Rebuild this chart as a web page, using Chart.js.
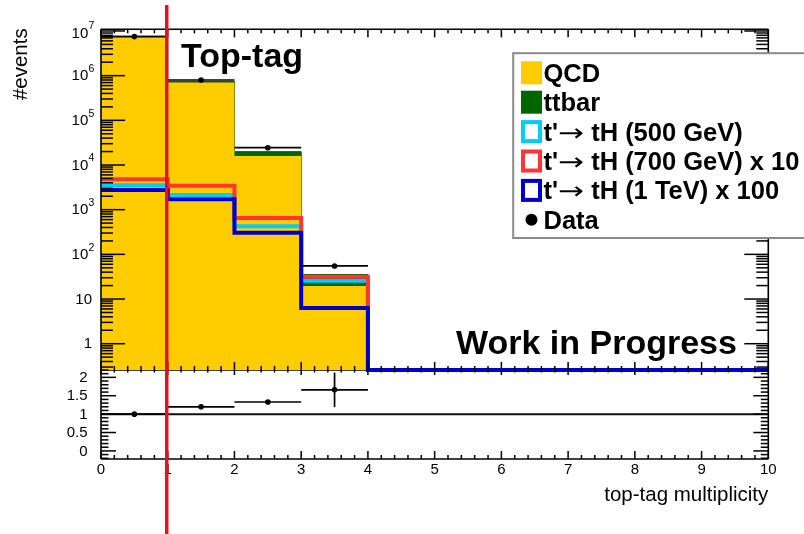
<!DOCTYPE html>
<html>
<head>
<meta charset="utf-8">
<script src="https://cdn.jsdelivr.net/npm/chart.js@4.4.1/dist/chart.umd.min.js"></script>
<style>
  html, body { margin: 0; padding: 0; background: #fff; }
  #wrap { position: relative; width: 804px; height: 534px; }
</style>
</head>
<body>
<div id="wrap"><canvas id="c" width="804" height="534"></canvas></div>
<script>
// Bin edges of the top-tag multiplicity histogram
const binEdges = [0, 1, 2, 3, 4, 5, 6, 7, 8, 9, 10];

// Event counts per bin (stacked backgrounds, scaled signals, data)
const qcd        = [7.6e6, 7.0e5, 1.59e4, 19.6, 0, 0, 0, 0, 0, 0];
const ttbar      = [3.0e4, 4.0e4, 4.0e3, 15.8, 0, 0, 0, 0, 0, 0];
const tH500      = [3500, 2130, 425, 25.7, 0, 0, 0, 0, 0, 0];
const tH700x10   = [4820, 3430, 650, 31.6, 0, 0, 0, 0, 0, 0];
const tH1000x100 = [2760, 1710, 305, 6.3, 0, 0, 0, 0, 0, 0];
const dataCounts = [7.5e6, 8.0e5, 2.44e4, 55, 0, 0, 0, 0, 0, 0];

// Data / MC ratio per bin with its uncertainty
const ratioVals = [1.0, 1.2, 1.33, 1.66];
const ratioErr  = [0.0004, 0.0013, 0.009, 0.47];

// Axis labels
const xTickLabels = ['0', '1', '2', '3', '4', '5', '6', '7', '8', '9', '10'];
const yDecades = [0, 1, 2, 3, 4, 5, 6, 7];
const ratioTicks = [0, 0.5, 1, 1.5, 2];
const ratioTickLabels = ['0', '0.5', '1', '1.5', '2'];

const seriesNames = ['QCD', 'ttbar', "t'\u2192 tH (500 GeV)", "t'\u2192 tH (700 GeV) x 10", "t'\u2192 tH (1 TeV) x 100", 'Data'];
const cutValue = 0.985; // selection line on the multiplicity axis

// ---- styling ----
const FONT = '"Liberation Sans", Arial, Helvetica, sans-serif';
const COL = {
  qcd: '#ffcc00', ttbar: '#006600', s500: '#00ccff', s700: '#ff3535', s1000: '#0000cc',
  cut: '#e6101e', legendBorder: '#8a8a8a'
};
const Y_MIN = 0.258, Y_MAX = 1.09e7;
const R_MIN = -0.22, R_MAX = 2.2;

// Histogram outline: one point per bin low edge plus the closing edge
function stepPoints(vals) {
  const pts = vals.map((v, i) => ({ x: binEdges[i], y: v > 0 ? v : Y_MIN }));
  pts.push({ x: binEdges[vals.length], y: pts[pts.length - 1].y });
  return pts;
}
const stackTop = qcd.map((v, i) => v + ttbar[i]);

function seg(ctx, x1, y1, x2, y2) {
  ctx.beginPath(); ctx.moveTo(x1, y1); ctx.lineTo(x2, y2); ctx.stroke();
}

// Legend label: bold text with a thin, wide arrow in between
function drawLabel(ctx, text, x, y) {
  const parts = text.split('\u2192');
  const bold = 'bold 25.5px ' + FONT;
  ctx.font = bold;
  ctx.fillText(parts[0], x, y);
  x += ctx.measureText(parts[0]).width;
  if (parts.length > 1) {
    ctx.font = '24px "DejaVu Sans"';
    const w = ctx.measureText('\u2192').width;
    const sx = 26 / w;
    ctx.save();
    ctx.translate(x, y);
    ctx.scale(sx, 1);
    ctx.fillText('\u2192', 0, 0);
    ctx.restore();
    x += 26;
    ctx.font = bold;
    ctx.fillText(parts[1], x, y);
  }
}

const rootFrame = {
  id: 'rootFrame',
  beforeDatasetsDraw(chart) {
    const { ctx } = chart;
    const xs = chart.scales.x, ys = chart.scales.y;
    ctx.save();
    ctx.strokeStyle = '#000'; ctx.lineWidth = 1.6;
    seg(ctx, xs.left, ys.bottom, xs.right, ys.bottom);
    ctx.restore();
  },
  afterDatasetsDraw(chart) {
    const { ctx } = chart;
    const xs = chart.scales.x, ys = chart.scales.y, yr = chart.scales.yR;
    const L = xs.left, R = xs.right, T = ys.top, M = ys.bottom, B = yr.bottom;
    const px = v => xs.getPixelForValue(v);
    ctx.save();
    ctx.strokeStyle = '#000';
    ctx.lineCap = 'butt';

    // data error bars (bin width) in the upper pad
    ctx.lineWidth = 1.7;
    dataCounts.forEach((v, i) => {
      if (v <= 0) return;
      const y = ys.getPixelForValue(v);
      seg(ctx, px(binEdges[i]), y, px(binEdges[i + 1]), y);
    });
    // ratio error bars
    ratioVals.forEach((v, i) => {
      const y = yr.getPixelForValue(v);
      const xc = px(binEdges[i] + 0.5);
      seg(ctx, px(binEdges[i]), y, px(binEdges[i + 1]), y);
      seg(ctx, xc, yr.getPixelForValue(v + ratioErr[i]), xc, yr.getPixelForValue(v - ratioErr[i]));
    });

    // frames
    ctx.lineWidth = 1.6;
    seg(ctx, L, T, R, T);
    seg(ctx, L, T, L, B);
    seg(ctx, R, T, R, B);
    seg(ctx, L, B, R, B);

    // x ticks (major every 1, minor every 0.2)
    ctx.lineWidth = 1.5;
    for (let k = 0; k <= 50; k++) {
      const x = px(k / 5);
      const major = k % 5 === 0;
      seg(ctx, x, T, x, T + (major ? 8 : 4));
      seg(ctx, x, M, x, M - (major ? 8 : 4));
      seg(ctx, x, M, x, M + (major ? 5 : 2.5));
      seg(ctx, x, B, x, B - (major ? 8 : 4));
    }
    // log y ticks of the upper pad
    for (let d = -1; d <= 7; d++) {
      for (let m = 1; m <= 9; m++) {
        const v = m * Math.pow(10, d);
        if (v < Y_MIN || v > Y_MAX) continue;
        const y = ys.getPixelForValue(v);
        const len = m === 1 ? 24 : 12;
        seg(ctx, L, y, L + len, y);
        seg(ctx, R, y, R - len, y);
      }
    }
    // ratio y ticks
    for (let k = -2; k <= 22; k++) {
      const y = yr.getPixelForValue(k / 10);
      const len = k % 5 === 0 ? 15 : 7.5;
      seg(ctx, L, y, L + len, y);
      seg(ctx, R, y, R - len, y);
    }

    // tick labels
    ctx.fillStyle = '#000';
    ctx.textBaseline = 'middle';
    yDecades.forEach(d => {
      const y = ys.getPixelForValue(Math.pow(10, d)) + (d === 7 ? 2 : 0);
      ctx.font = '15px ' + FONT;
      ctx.textAlign = 'right';
      if (d === 0) { ctx.fillText('1', 92, y + 0.5); return; }
      if (d === 1) { ctx.fillText('10', 92, y + 0.5); return; }
      ctx.fillText('10', 88.3, y + 0.5);
      ctx.font = '10.5px ' + FONT;
      ctx.textAlign = 'left';
      ctx.fillText(String(d), 88.6, y - 6.5);
    });
    ctx.font = '15px ' + FONT;
    ctx.textAlign = 'right';
    ratioTicks.forEach((v, i) => ctx.fillText(ratioTickLabels[i], 87.5, yr.getPixelForValue(v) + 0.5));
    ctx.textAlign = 'center';
    xTickLabels.forEach((t, i) => ctx.fillText(t, px(binEdges[i]), 469.5));

    // axis titles
    ctx.textBaseline = 'alphabetic';
    ctx.font = '20.5px ' + FONT;
    ctx.textAlign = 'right';
    ctx.fillText('top-tag multiplicity', R, 501);
    ctx.save();
    ctx.translate(26.5, 28.3);
    ctx.rotate(-Math.PI / 2);
    ctx.fillText('#events', 0, 0);
    ctx.restore();
    ctx.restore();
  },
  afterDraw(chart) {
    const { ctx } = chart;
    const xs = chart.scales.x;
    ctx.save();
    ctx.fillStyle = '#000';
    ctx.textBaseline = 'alphabetic';
    ctx.textAlign = 'left';
    ctx.font = 'bold 34px ' + FONT;
    ctx.fillText('Top-tag', 181, 66.5);
    ctx.fillText('Work in Progress', 456, 354);

    // legend box
    ctx.fillStyle = '#fff';
    ctx.fillRect(513.2, 53.2, 320, 184.8);
    ctx.strokeStyle = COL.legendBorder;
    ctx.lineWidth = 2;
    ctx.strokeRect(513.2, 53.2, 320, 184.8);

    const rows = [72.8, 102.2, 131.6, 161, 190.4, 219.8];
    const bx = 521, bw = 21, bh = 23;
    const marks = [
      { kind: 'fill', c: COL.qcd }, { kind: 'fill', c: COL.ttbar },
      { kind: 'line', c: COL.s500 }, { kind: 'line', c: COL.s700 },
      { kind: 'line', c: COL.s1000 }, { kind: 'dot', c: '#000' }
    ];
    marks.forEach((mk, i) => {
      const yc = rows[i];
      if (mk.kind === 'fill') {
        ctx.fillStyle = mk.c;
        ctx.fillRect(bx, yc - bh / 2, bw, bh);
      } else if (mk.kind === 'line') {
        ctx.strokeStyle = mk.c; ctx.lineWidth = 4;
        ctx.strokeRect(bx + 2, yc - bh / 2 + 2, bw - 4, bh - 4);
      } else {
        ctx.fillStyle = mk.c;
        ctx.beginPath(); ctx.arc(531.5, yc, 6, 0, Math.PI * 2); ctx.fill();
      }
      ctx.fillStyle = '#000';
      drawLabel(ctx, seriesNames[i], 543.5, yc + 9);
    });

    // selection line
    const xc = xs.getPixelForValue(cutValue);
    ctx.strokeStyle = COL.cut;
    ctx.lineWidth = 3.5;
    seg(ctx, xc, 5, xc, chart.height);
    ctx.restore();
  }
};

const outline = (vals, color, order) => ({
  data: stepPoints(vals), yAxisID: 'y', borderColor: color, borderWidth: 4,
  stepped: true, fill: false, pointRadius: 0, order,
  clip: { left: 0, top: 0, right: 0, bottom: 2 }
});

new Chart(document.getElementById('c'), {
  type: 'line',
  data: {
    datasets: [
      { // data points, upper pad
        data: dataCounts.flatMap((v, i) => v > 0 ? [{ x: binEdges[i] + 0.5, y: v }] : []),
        yAxisID: 'y', showLine: false, pointRadius: 2.8, pointBorderWidth: 0,
        pointBackgroundColor: '#000', order: 0
      },
      { // ratio points
        data: ratioVals.map((v, i) => ({ x: binEdges[i] + 0.5, y: v })),
        yAxisID: 'yR', showLine: false, pointRadius: 2.8, pointBorderWidth: 0,
        pointBackgroundColor: '#000', order: 0
      },
      { // unity line of the ratio pad
        data: [{ x: binEdges[0], y: 1 }, { x: binEdges[binEdges.length - 1], y: 1 }],
        yAxisID: 'yR', borderColor: '#111', borderWidth: 2, pointRadius: 0, order: 1
      },
      outline(tH1000x100, COL.s1000, 2),
      outline(tH700x10, COL.s700, 3),
      outline(tH500, COL.s500, 4),
      { // QCD
        data: stepPoints(qcd), yAxisID: 'y', stepped: true, fill: 'start',
        backgroundColor: COL.qcd, borderWidth: 0, pointRadius: 0, order: 5
      },
      { // ttbar stacked on QCD
        data: stepPoints(stackTop), yAxisID: 'y', stepped: true, fill: 'start',
        backgroundColor: COL.ttbar, borderColor: COL.ttbar, borderWidth: 1, pointRadius: 0, order: 6
      }
    ]
  },
  options: {
    responsive: false,
    animation: false,
    devicePixelRatio: 1,
    events: [],
    elements: { line: { tension: 0 } },
    layout: { padding: { left: 101, right: 35.7, top: 29.3, bottom: 75 }, autoPadding: false },
    plugins: { legend: { display: false }, tooltip: { enabled: false }, title: { display: false } },
    scales: {
      x: { type: 'linear', min: 0, max: 10, bounds: 'data', display: false },
      y: { type: 'logarithmic', min: Y_MIN, max: Y_MAX, bounds: 'data', display: false,
           position: 'left', stack: 'pads', stackWeight: 340.7, weight: 2 },
      yR: { type: 'linear', min: R_MIN, max: R_MAX, bounds: 'data', display: false,
            position: 'left', stack: 'pads', stackWeight: 89, weight: 1 }
    }
  },
  plugins: [rootFrame]
});
</script>
</body>
</html>
